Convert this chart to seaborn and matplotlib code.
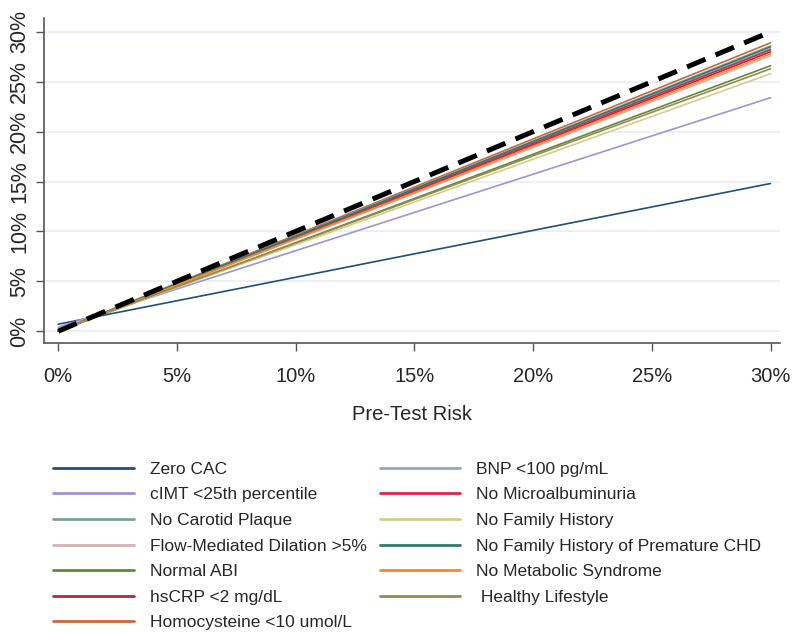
import matplotlib
matplotlib.use('Agg')
import matplotlib.pyplot as plt
from matplotlib.ticker import FuncFormatter
from matplotlib.lines import Line2D
import seaborn as sns
import pandas as pd

#pre-test risk at the two ends of each line (percent)
pre_test = [0, 30]

#post-test risk at pre-test 0% and 30%
labels = ['Zero CAC', 'cIMT <25th percentile', 'No Carotid Plaque',
          'Flow-Mediated Dilation >5%', 'Normal ABI', 'hsCRP <2 mg/dL',
          'Homocysteine <10 umol/L', 'BNP <100 pg/mL', 'No Microalbuminuria',
          'No Family History', 'No Family History of Premature CHD',
          'No Metabolic Syndrome', ' Healthy Lifestyle']
start_vals = [0.7, 0.4, 0.0, 0.0, 0.0, 0.0, 0.0, 0.0, 0.0, 0.1, 0.0, 0.0, 0.1]
end_vals = [14.8, 23.4, 28.3, 27.6, 26.6, 28.0, 28.9, 28.6, 28.2, 25.8, 28.5, 27.8, 26.3]
colors = ['#1f4f7a', '#9b94d6', '#7fa39a', '#d3b0b5', '#5e8a3c', '#b0283a',
          '#c8683a', '#8fa8bc', '#d8284a', '#cfcf8a', '#2f7a68', '#f28a2e', '#9a8a4a']

#no-information reference line
ref_vals = [0, 30]

sns.set_style('white')
plt.rcParams['font.family'] = ['Liberation Sans', 'DejaVu Sans']

rows = []
for lab, s, e in zip(labels, start_vals, end_vals):
    rows.append({'series': lab, 'pre': pre_test[0], 'post': s})
    rows.append({'series': lab, 'pre': pre_test[1], 'post': e})
df = pd.DataFrame(rows)
ref_df = pd.DataFrame({'pre': pre_test, 'post': ref_vals})

fig = plt.figure(figsize=(8, 6.39), dpi=100)
ax = fig.add_axes([0.055, 0.463, 0.92, 0.509])

# horizontal grid first so lines sit on top
for yv in range(0, 31, 5):
    ax.axhline(yv, color='#e6eef3', lw=1.2, zorder=0)

sns.lineplot(data=df, x='pre', y='post', hue='series', hue_order=labels,
             palette=dict(zip(labels, colors)), linewidth=1.2, ax=ax, legend=False)
sns.lineplot(data=ref_df, x='pre', y='post', color='black', linewidth=3.6,
             dashes=False, ax=ax, legend=False)
ax.lines[-1].set_dashes([4, 2.2])

ax.set_xlim(-0.6, 30.4)
ax.set_ylim(-1.2, 31.4)
ax.set_xticks(range(0, 31, 5))
ax.set_yticks(range(0, 31, 5))
fmt = FuncFormatter(lambda v, p: '{:.0f}%'.format(v))
ax.xaxis.set_major_formatter(fmt)
ax.yaxis.set_major_formatter(fmt)
ax.tick_params(axis='x', labelsize=14.5, length=6, width=1, color='#555555', pad=11, direction='out', bottom=True)
ax.tick_params(axis='y', labelsize=15.5, length=6, width=1, color='#555555', pad=4, direction='out', left=True)
for t in ax.get_yticklabels():
    t.set_rotation(90)
    t.set_va('center')

for side in ['top', 'right']:
    ax.spines[side].set_visible(False)
for side in ['left', 'bottom']:
    ax.spines[side].set_color('#555555')
    ax.spines[side].set_linewidth(1.2)

ax.set_xlabel('Pre-Test Risk', fontsize=14.5, labelpad=14)
ax.set_ylabel('')

handles = [Line2D([0], [0], color=c, lw=2) for c in colors]
fig.legend(handles, labels, loc='upper left', bbox_to_anchor=(0.056, 0.291),
           ncol=2, frameon=False, fontsize=12.5, handlelength=4.65,
           handletextpad=0.9, labelspacing=0.6, columnspacing=0.75, borderpad=0)

fig.savefig('out.png', dpi=100)
